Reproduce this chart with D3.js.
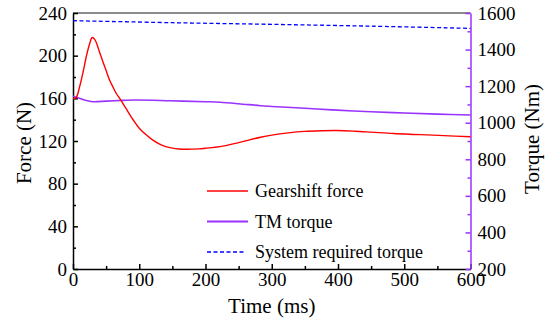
<!DOCTYPE html>
<html>
<head>
<meta charset="utf-8">
<script src="https://cdn.jsdelivr.net/npm/d3@7"></script>
</head>
<body style="margin:0">
<svg id="chart"></svg>
<script>
// data
var forceTime  = [0, 5, 10, 15, 20, 25, 29, 33, 40, 45, 50, 55, 60, 65, 72, 80, 91, 100, 110, 120, 130, 140, 150, 160, 172, 190, 200, 222, 250, 283, 300, 325, 350, 375, 398, 425, 450, 484, 525, 560, 600];
var forceValue = [159.5, 161, 171, 184, 199, 211, 217, 215, 203.5, 194.5, 186, 177.5, 171, 165, 158.5, 150.5, 139.7, 132, 126, 121, 117.3, 114.8, 113.3, 112.5, 112.2, 112.6, 113.2, 114.7, 118.5, 123.5, 125.5, 127.6, 129, 129.6, 129.8, 129.2, 128.3, 127, 126, 125, 124];

var tmTime  = [0, 10, 20, 30, 50, 75, 96, 147, 200, 222, 250, 283, 300, 350, 391, 450, 500, 550, 600];
var tmValue = [1145, 1134, 1121, 1115, 1118, 1122, 1124, 1120, 1115, 1112, 1104, 1093, 1089, 1079, 1070, 1060, 1053, 1047, 1042];

var reqTime  = [0, 150, 300, 450, 600];
var reqValue = [1558, 1547, 1538, 1528, 1516];

var timeTicks   = [0, 100, 200, 300, 400, 500, 600];
var forceTicks  = [0, 40, 80, 120, 160, 200, 240];
var torqueTicks = [200, 400, 600, 800, 1000, 1200, 1400, 1600];

var legendLabels = ["Gearshift force", "TM torque", "System required torque"];

var margin = {top: 13, right: 80.5, bottom: 58, left: 73},
    width = 551,
    height = 327;

var svg = d3.select("#chart")
    .attr("width", width)
    .attr("height", height);

var x  = d3.scaleLinear().domain([0, 600]).range([margin.left, width - margin.right]);
var yF = d3.scaleLinear().domain([0, 240]).range([height - margin.bottom, margin.top]);
var yT = d3.scaleLinear().domain([200, 1600]).range([height - margin.bottom, margin.top]);

// top frame line
svg.append("line")
    .attr("x1", x(0)).attr("x2", x(600))
    .attr("y1", yF(240)).attr("y2", yF(240))
    .attr("stroke", "#666").attr("stroke-width", 1.5);

// minor ticks
function minor(g, color) {
  g.select(".domain").remove();
  g.selectAll("line").attr("stroke", color).attr("stroke-width", 1.5);
}
svg.append("g")
    .attr("transform", "translate(0," + yF(0) + ")")
    .call(d3.axisBottom(x).tickValues(d3.range(50, 600, 100)).tickSize(-3).tickFormat(""))
    .call(minor, "#000");
svg.append("g")
    .attr("transform", "translate(" + x(0) + ",0)")
    .call(d3.axisLeft(yF).tickValues(d3.range(20, 240, 40)).tickSize(-3).tickFormat(""))
    .call(minor, "#000");
svg.append("g")
    .attr("transform", "translate(" + x(600) + ",0)")
    .call(d3.axisRight(yT).tickValues(d3.range(300, 1600, 200)).tickSize(-3).tickFormat(""))
    .call(minor, "#9933ff");

// main axes
function styleAxis(g, color) {
  g.selectAll("path, line").attr("stroke", color).attr("stroke-width", 1.5);
  g.selectAll("text")
      .attr("fill", "#000")
      .style("font-family", "Liberation Serif")
      .style("font-size", "19px");
}

svg.append("g")
    .attr("transform", "translate(0," + yF(0) + ")")
    .call(d3.axisBottom(x).tickValues(timeTicks).tickFormat(d3.format("d"))
      .tickSizeInner(-5).tickSizeOuter(0).tickPadding(3))
    .call(styleAxis, "#000");

svg.append("g")
    .attr("transform", "translate(" + x(0) + ",0)")
    .call(d3.axisLeft(yF).tickValues(forceTicks).tickFormat(d3.format("d"))
      .tickSizeInner(-5).tickSizeOuter(0).tickPadding(6))
    .call(styleAxis, "#000");

svg.append("g")
    .attr("transform", "translate(" + x(600) + ",0)")
    .call(d3.axisRight(yT).tickValues(torqueTicks).tickFormat(d3.format("d"))
      .tickSizeInner(-5).tickSizeOuter(0).tickPadding(7))
    .call(styleAxis, "#9933ff");

// axis titles
svg.append("text")
    .attr("x", (x(0) + x(600)) / 2)
    .attr("y", 313)
    .attr("text-anchor", "middle")
    .style("font-family", "Liberation Serif")
    .style("font-size", "21px")
    .text("Time (ms)");

svg.append("text")
    .attr("transform", "translate(31," + ((yF(0) + yF(240)) / 2 + 2) + ") rotate(-90)")
    .attr("text-anchor", "middle")
    .style("font-family", "Liberation Serif")
    .style("font-size", "21px")
    .text("Force (N)");

svg.append("text")
    .attr("transform", "translate(539," + ((yF(0) + yF(240)) / 2 - 2) + ") rotate(-90)")
    .attr("text-anchor", "middle")
    .style("font-family", "Liberation Serif")
    .style("font-size", "21px")
    .text("Torque (Nm)");

// lines
var forceLine = d3.line()
    .curve(d3.curveCatmullRom.alpha(0.5))
    .x(function(d) { return x(d[0]); })
    .y(function(d) { return yF(d[1]); });

var torqueLine = d3.line()
    .curve(d3.curveCatmullRom.alpha(0.5))
    .x(function(d) { return x(d[0]); })
    .y(function(d) { return yT(d[1]); });

svg.append("path")
    .datum(reqTime.map(function(t, i) { return [t, reqValue[i]]; }))
    .attr("d", torqueLine)
    .attr("fill", "none")
    .attr("stroke", "#0000ff")
    .attr("stroke-width", 1.3)
    .attr("stroke-dasharray", "4,2.5");

svg.append("path")
    .datum(tmTime.map(function(t, i) { return [t, tmValue[i]]; }))
    .attr("d", torqueLine)
    .attr("fill", "none")
    .attr("stroke", "#9933ff")
    .attr("stroke-width", 1.6);

svg.append("path")
    .datum(forceTime.map(function(t, i) { return [t, forceValue[i]]; }))
    .attr("d", forceLine)
    .attr("fill", "none")
    .attr("stroke", "#ff0000")
    .attr("stroke-width", 1.4);

// legend
var legendColors = ["#ff0000", "#9933ff", "#0000ff"];
var legendDash = [null, null, "4,2.5"];
var legend = svg.append("g").attr("transform", "translate(207,191)");
legendLabels.forEach(function(label, i) {
  var g = legend.append("g").attr("transform", "translate(0," + (i * 30.5) + ")");
  g.append("line")
      .attr("x1", 0).attr("x2", i === 2 ? 37 : 41)
      .attr("y1", 0).attr("y2", 0)
      .attr("stroke", legendColors[i])
      .attr("stroke-width", i === 1 ? 1.8 : 1.4)
      .attr("stroke-dasharray", legendDash[i]);
  g.append("text")
      .attr("x", 48)
      .attr("y", 6)
      .style("font-family", "Liberation Serif")
      .style("font-size", "18px")
      .text(label);
});
</script>
</body>
</html>
